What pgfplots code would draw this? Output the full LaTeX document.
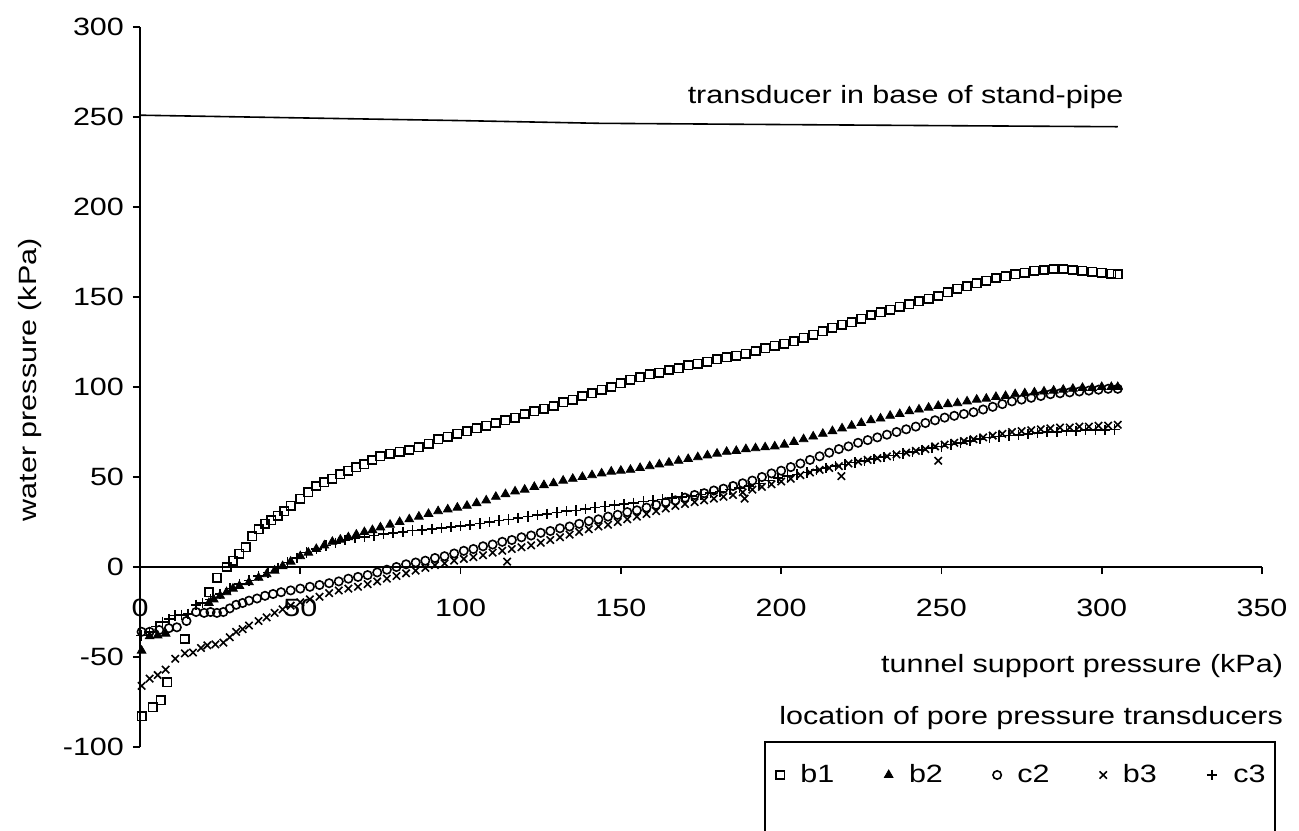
\documentclass[border=0pt]{standalone}
\usepackage{fontspec}
\setmainfont{Liberation Sans}[FakeStretch=1.22]
\usepackage{pgfplots}
\pgfplotsset{compat=1.18}
\begin{document}
\begin{tikzpicture}[font=\fontsize{12.5}{15}\selectfont]
\begin{axis}[
  at={(0,0)}, anchor=south west,
  scale only axis, width=561pt, height=360pt,
  xmin=0, xmax=350, ymin=-100, ymax=300,
  axis x line=middle, axis y line=left,
  axis line style={-, line width=0.9pt},
  hide obscured x ticks=false, hide obscured y ticks=false,
  xtick={0,50,...,350}, ytick={-100,-50,...,300},
  tick align=outside, major tick length=3.5pt,
  tick style={black, line width=0.8pt},
  /pgf/number format/assume math mode=true,
  tick label style={font=\fontsize{12.5}{15}\selectfont},
  xticklabel style={yshift=-9pt},
  yticklabel style={xshift=-1pt},
  label style={font=\fontsize{12.5}{15}\selectfont},
  xlabel={tunnel support pressure (kPa)},
  ylabel={water pressure (kPa)},
  xlabel style={at={(axis description cs:1.025,0.1125)}, anchor=east},
  ylabel style={at={(axis description cs:-0.098,0.51)}, anchor=center},
  clip=false,
  legend columns=5,
  legend style={at={(axis description cs:1.007,-0.0389)}, anchor=east,
    draw=none, fill=none, inner xsep=0pt, inner ysep=0pt,
    font=\fontsize{12.5}{15}\selectfont,
    /tikz/every odd column/.append style={column sep=6pt},
    /tikz/every even column/.append style={column sep=23pt}},
]
% stand-pipe transducer
\addplot[black, line width=0.8pt, forget plot] coordinates {
(0,251) (50,249.5) (100,248) (143,246.5) (200,245.8) (250,245.2) (305,244.6)};
\node[anchor=base east] at (axis cs:309,257.5) {transducer in base of stand-pipe};

% b1
\addplot[only marks, mark=square, mark size=2.1pt, black, line width=0.8pt, mark options={fill=white}] coordinates {
(0.5,-83) (4,-78) (6.5,-74) (8.5,-64) (14,-40) (21.5,-14) (24,-6) (27,0) (29,3.5) (31,7.5) (33,11) (35,17) (37,21) (39,24) (41,26) (43,28.5) (45,31) (47,34) (50,38) (52.5,41.5) (55,45) (57.5,47) (60,49) (62.5,51.5) (65,53.5) (67.5,55.5) (70,57) (72.5,59.5) (75,61.5) (78,63) (81,64) (84,65) (87,66.5) (90,68.5) (93,71) (96,72.5) (99,74) (102,75.5) (105,77) (108,78.5) (111,80) (114,81.5) (117,83) (120,85) (123,86.5) (126,88) (129,89.5) (132,91.5) (135,93) (138,95) (141,96.5) (144,98.5) (147,100) (150,102) (153,104) (156,105.5) (159,107) (162,108) (165,109.5) (168,110.5) (171,112) (174,113) (177,114) (180,115.5) (183,116.5) (186,117.5) (189,118.5) (192,120) (195,121.5) (198,123) (201,124) (204,125.5) (207,127.5) (210,129) (213,131) (216,133) (219,134.5) (222,136) (225,138) (228,140) (231,141.5) (234,143) (237,144.5) (240,146) (243,147.5) (246,149) (249,150.5) (252,152.5) (255,154.5) (258,156) (261,157.5) (264,159) (267,160.5) (270,161.5) (273,162.5) (276,163.5) (279,164.5) (282,165) (285,165.5) (288,165.5) (291,165) (294,164.5) (297,164) (300,163.5) (303,163) (305,162.5)};
\addlegendentry{b1}

% b2
\addplot[only marks, mark=triangle*, mark size=2.5pt, black] coordinates {
(0.5,-46.5) (3,-38.5) (5.5,-38) (8,-37) (21.5,-20) (23,-18) (25,-16) (27,-14) (29,-12) (31,-10.5) (34,-8.5) (37,-6) (39.5,-4) (42,-2) (44.5,0.5) (47,3) (50,6) (52.5,8) (55,10) (57.5,12) (60,14) (62.5,15.2) (65,16.5) (67.5,18) (70,19.4) (72.5,20.5) (75,22) (78,23.5) (81,25) (84,26.5) (87,28) (90,29.5) (93,31) (96,32) (99,33) (102,34) (105,35.5) (108,37) (111,39) (114,40.5) (117,42) (120,43) (123,44.5) (126,45.5) (129,46.5) (132,48) (135,49) (138,50) (141,51) (144,52) (147,53) (150,53.5) (153,54) (156,55) (159,56) (162,57) (165,58) (168,59) (171,60) (174,61) (177,62) (180,63) (183,64) (186,64.5) (189,65.5) (192,66) (195,66.5) (198,67) (201,68) (204,69.5) (207,71) (210,72.5) (213,74) (216,75.5) (219,77) (222,78.5) (225,80) (228,81.5) (231,82.5) (234,84) (237,85) (240,86.5) (243,87.5) (246,88.5) (249,89.5) (252,90.5) (255,91) (258,92) (261,93) (264,93.5) (267,94.5) (270,95) (273,96) (276,96.5) (279,97) (282,97.5) (285,98) (288,98.5) (291,99) (294,99.5) (297,99.5) (300,100) (303,100) (305,100)};
\addlegendentry{b2}

% c2
\addplot[only marks, mark=o, mark size=2.1pt, black, line width=0.8pt, mark options={fill=white}] coordinates {
(0.5,-36) (3,-36) (6,-35) (9,-34) (11.5,-33.5) (14.5,-30) (17.5,-25) (20,-25.5) (22,-25) (24,-25.5) (26,-25) (28,-23) (30,-21) (32,-20) (34,-18.7) (36.5,-17.5) (39,-16) (41.5,-15) (44,-14) (47,-13) (50,-12) (53,-11) (56,-10) (59,-9) (62,-8) (65,-6.5) (68,-5.5) (71,-4.5) (74,-3) (77,-1.5) (80,0) (83,1.5) (86,2.5) (89,3.5) (92,5) (95,6) (98,7.5) (101,9) (104,10) (107,11.5) (110,12.5) (113,14) (116,15) (119,16.5) (122,17.5) (125,19) (128,20) (131,21.5) (134,22.5) (137,24) (140,25.5) (143,26.5) (146,28) (149,29) (152,30.5) (155,31.5) (158,33) (161,34.5) (164,36) (167,37) (170,38.5) (173,40) (176,41) (179,42.5) (182,43.5) (185,45) (188,46.5) (191,48) (194,50) (197,52) (200,53.5) (203,55.5) (206,57.5) (209,59.5) (212,61.5) (215,63.5) (218,65.5) (221,67) (224,69) (227,70.5) (230,72) (233,73.5) (236,75) (239,76.5) (242,78) (245,80) (248,81.5) (251,83) (254,84) (257,85) (260,86) (263,87.5) (266,89) (269,90.5) (272,92) (275,93) (278,94) (281,95) (284,96) (287,96.5) (290,97) (293,97.5) (296,98) (299,98.5) (302,99) (305,99)};
\addlegendentry{c2}

% b3
\addplot[only marks, mark=x, mark size=2.6pt, black, line width=0.8pt] coordinates {
(0.5,-66) (3,-62) (5.5,-60) (8,-57) (11,-51) (14,-48) (16.5,-47.5) (19,-45) (21,-43.5) (23.5,-43) (26,-42) (28,-39) (30,-36) (32,-34.5) (34,-32.5) (37,-30) (39.5,-28) (42,-25.5) (44.5,-23.5) (47,-21.5) (50,-19.6) (53,-18) (56,-16.5) (59,-14.5) (62,-13) (65,-12) (68,-11) (71,-9.5) (74,-8) (77,-6.5) (80,-5) (83,-3.5) (86,-2) (89,-0.5) (92,1) (95,2) (98,3.5) (101,4.5) (104,5.5) (107,6.5) (110,8) (113,9) (114.5,3) (116,10) (119,11) (122,12) (125,13.5) (128,15) (131,16.5) (134,18) (137,19.5) (140,21) (143,22.5) (146,23.5) (149,25) (152,26.5) (155,28) (158,29.5) (161,31) (164,32.5) (167,34) (170,35) (173,36) (176,37) (179,38) (182,39) (185,40) (188,41.5) (188.6,38) (191,43) (194,44.5) (197,46) (200,47.5) (203,49) (206,51) (209,52.5) (212,54) (215,55) (218,56) (218.8,50.5) (221,57.5) (224,58.5) (227,59.5) (230,60.5) (233,61.5) (236,62.5) (239,63.5) (242,64.5) (245,65.5) (248,67) (249,59) (251,68) (254,69) (257,70) (260,71) (263,72) (266,73) (269,74) (272,75) (275,75.5) (278,76) (281,76.5) (284,77) (287,77.5) (290,77.5) (293,78) (296,78) (299,78.5) (302,78.5) (305,79)};
\addlegendentry{b3}

% c3
\addplot[only marks, mark=+, mark size=2.6pt, black, line width=0.8pt] coordinates {
(0.5,-38) (3,-36) (5,-33) (7,-30.5) (9,-29) (11,-27) (13,-26.5) (15,-26) (17.5,-21) (19.5,-20) (22,-18) (25,-15) (28,-12) (31,-9.5) (34,-7.5) (37,-5) (40,-3) (43,-0.5) (46,2.5) (49,5) (52,8) (55,10) (58,12) (61,13.5) (64,15) (67,16) (70,16.8) (73,17.5) (76,18.2) (79,19) (82,19.6) (85,20.2) (88,20.7) (91,21.2) (94,21.7) (97,22.2) (100,22.8) (103,23.5) (106,24.2) (109,25) (112,25.8) (115,26.5) (118,27.2) (121,28) (124,28.8) (127,29.5) (130,30.2) (133,31) (136,31.5) (139,32.2) (142,33) (145,33.7) (148,34.4) (151,35) (154,35.7) (157,36.3) (160,37) (163,37.6) (166,38.2) (169,38.8) (172,39.5) (175,40.2) (178,41) (181,42) (184,43) (187,44) (190,45) (193,46.5) (196,48) (199,49.5) (202,50.5) (205,51.5) (208,52.5) (211,54) (214,55) (217,56) (220,57) (223,58) (226,59) (229,60) (232,61) (235,62) (238,63) (241,64) (244,65) (247,66) (250,67) (253,68) (256,69) (259,70) (262,71) (265,72) (268,72.5) (271,73) (274,73.5) (277,74) (280,74.5) (283,75) (286,75) (289,75.5) (292,75.5) (295,76) (298,76) (301,76) (304,76.5)};
\addlegendentry{c3}

\node[anchor=base east] at (axis description cs:1.025,0.0306) {location of pore pressure transducers};
\draw[line width=0.8pt] (axis description cs:0.557,-0.14) |- (axis description cs:1.0116,0.0069) -- (axis description cs:1.0116,-0.14);
\end{axis}
\pgfresetboundingbox
\useasboundingbox (-70pt,-41.5pt) rectangle (579.5pt,373.5pt);
\end{tikzpicture}
\end{document}
